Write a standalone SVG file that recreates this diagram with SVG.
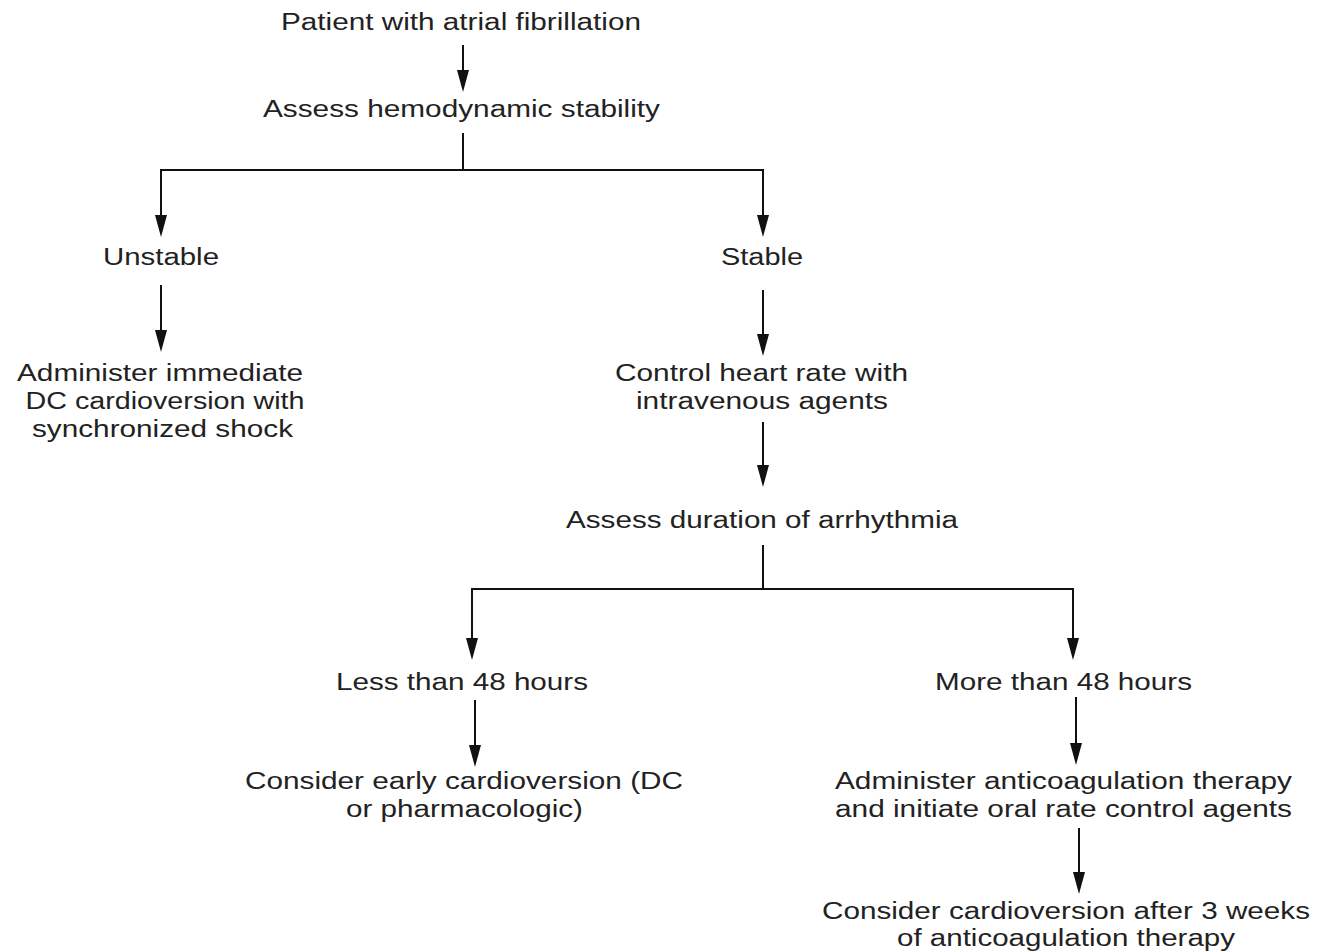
<svg xmlns="http://www.w3.org/2000/svg" width="1318" height="952" viewBox="0 0 1318 952">
<style>
text{font-family:"Liberation Sans",Arial,sans-serif;font-size:23.5px;fill:#222;text-anchor:middle}
.c{stroke:#111;stroke-width:2;fill:none}
.h{fill:#111}
</style>
<rect width="1318" height="952" fill="#fff"/>
<g id="connectors">
<line class="c" x1="463" y1="45" x2="463" y2="70"/>
<path class="h" d="M457,70 L469,70 L463,92 Z"/>
<polyline class="c" points="463,133 463,170"/>
<polyline class="c" points="161,216 161,170 763,170 763,216"/>
<path class="h" d="M155,215 L167,215 L161,237 Z"/>
<path class="h" d="M757,215 L769,215 L763,237 Z"/>
<line class="c" x1="161" y1="285" x2="161" y2="331"/>
<path class="h" d="M155,330 L167,330 L161,352 Z"/>
<line class="c" x1="763" y1="290" x2="763" y2="335"/>
<path class="h" d="M757,334 L769,334 L763,356 Z"/>
<line class="c" x1="763" y1="422" x2="763" y2="466"/>
<path class="h" d="M757,465 L769,465 L763,487 Z"/>
<line class="c" x1="763" y1="545" x2="763" y2="589"/>
<polyline class="c" points="472,639 472,589 1073,589 1073,639"/>
<path class="h" d="M466,638 L478,638 L472,660 Z"/>
<path class="h" d="M1067,638 L1079,638 L1073,660 Z"/>
<line class="c" x1="475" y1="700" x2="475" y2="746"/>
<path class="h" d="M469,745 L481,745 L475,767 Z"/>
<line class="c" x1="1076" y1="697" x2="1076" y2="744"/>
<path class="h" d="M1070,743 L1082,743 L1076,765 Z"/>
<line class="c" x1="1079" y1="828" x2="1079" y2="873"/>
<path class="h" d="M1073,872 L1085,872 L1079,894 Z"/>
</g>
<g id="n-patient"><text x="461" y="30" textLength="360" lengthAdjust="spacingAndGlyphs">Patient with atrial fibrillation</text></g>
<g id="n-assess"><text x="461.5" y="117" textLength="397" lengthAdjust="spacingAndGlyphs">Assess hemodynamic stability</text></g>
<g id="n-unstable"><text x="161" y="265" textLength="116" lengthAdjust="spacingAndGlyphs">Unstable</text></g>
<g id="n-stable"><text x="762" y="265" textLength="82" lengthAdjust="spacingAndGlyphs">Stable</text></g>
<g id="n-dc"><text x="160" y="381" textLength="286" lengthAdjust="spacingAndGlyphs">Administer immediate</text><text x="165" y="409" textLength="279" lengthAdjust="spacingAndGlyphs">DC cardioversion with</text><text x="162.5" y="437" textLength="261" lengthAdjust="spacingAndGlyphs">synchronized shock</text></g>
<g id="n-control"><text x="761.5" y="381" textLength="293" lengthAdjust="spacingAndGlyphs">Control heart rate with</text><text x="762" y="409" textLength="252" lengthAdjust="spacingAndGlyphs">intravenous agents</text></g>
<g id="n-duration"><text x="762" y="528" textLength="392" lengthAdjust="spacingAndGlyphs">Assess duration of arrhythmia</text></g>
<g id="n-less"><text x="462" y="690" textLength="252" lengthAdjust="spacingAndGlyphs">Less than 48 hours</text></g>
<g id="n-more"><text x="1063.5" y="690" textLength="257" lengthAdjust="spacingAndGlyphs">More than 48 hours</text></g>
<g id="n-early"><text x="464" y="789" textLength="438" lengthAdjust="spacingAndGlyphs">Consider early cardioversion (DC</text><text x="464.5" y="817" textLength="237" lengthAdjust="spacingAndGlyphs">or pharmacologic)</text></g>
<g id="n-anticoag"><text x="1063.5" y="789" textLength="457" lengthAdjust="spacingAndGlyphs">Administer anticoagulation therapy</text><text x="1063.5" y="817" textLength="457" lengthAdjust="spacingAndGlyphs">and initiate oral rate control agents</text></g>
<g id="n-after"><text x="1066" y="919" textLength="488" lengthAdjust="spacingAndGlyphs">Consider cardioversion after 3 weeks</text><text x="1066" y="946" textLength="338" lengthAdjust="spacingAndGlyphs">of anticoagulation therapy</text></g>
</svg>
